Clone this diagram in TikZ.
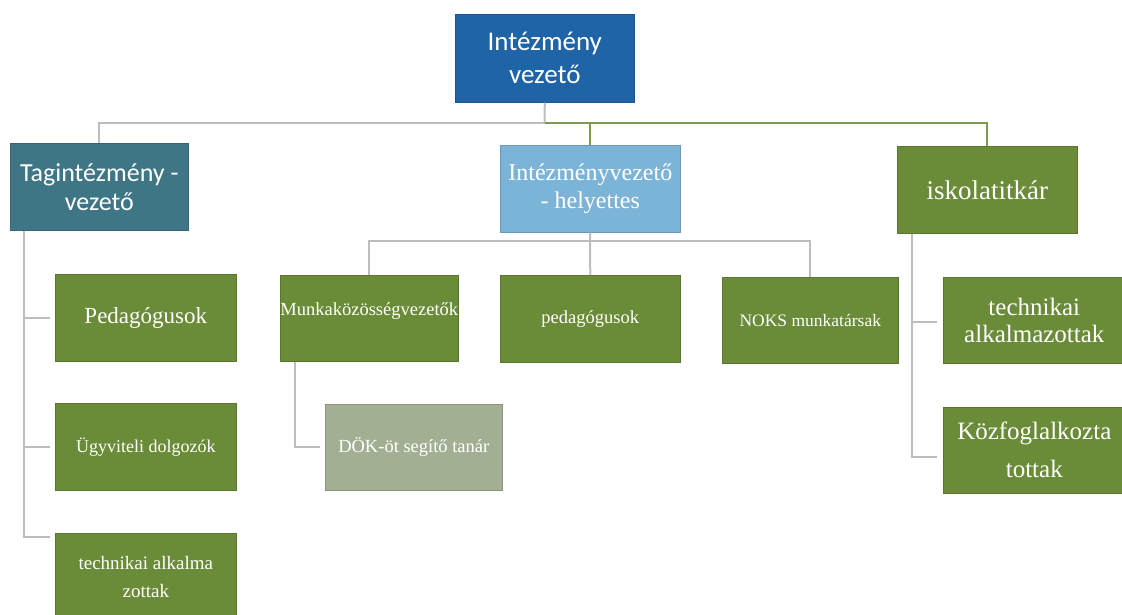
\documentclass[tikz,border=0pt]{standalone}
\usepackage{fontspec}
\setmainfont{Liberation Serif}
\newfontfamily\calfont{Carlito}
\definecolor{cblue}{HTML}{1F64A6}
\definecolor{cteal}{HTML}{3E7686}
\definecolor{clight}{HTML}{7CB4D8}
\definecolor{cgreen}{HTML}{6A8B37}
\definecolor{cdok}{HTML}{A3AF93}
\definecolor{cgray}{HTML}{BDBDBD}
\definecolor{cgline}{HTML}{7E9A4E}
\begin{document}
\begin{tikzpicture}[x=1pt,y=-1pt,
  box/.style={anchor=north west,inner sep=0pt,text=white,align=center,
    draw=#1!85!black,line width=0.6pt,fill=#1},
  conn/.style={draw=cgray,line width=2pt},
  conng/.style={draw=cgline,line width=2pt}]
\useasboundingbox (0,0) rectangle (1122,614);
% level 0
\node[box=cblue,minimum width=179pt,minimum height=88pt,font=\calfont\fontsize{27}{33}\selectfont] (top) at (455,14) {Intézmény\\vezető};
% level 1
\node[box=cteal,minimum width=178pt,minimum height=87pt,font=\calfont\fontsize{26}{29}\selectfont] (tag) at (10,143) {Tagintézmény -\\vezető};
\node[box=clight,minimum width=180pt,minimum height=87pt,font=\fontsize{24}{28}\selectfont] (hely) at (500,145) {Intézményvezető\\- helyettes};
\node[box=cgreen,minimum width=180pt,minimum height=87pt,font=\fontsize{27}{30}\selectfont] (isk) at (897,146) {iskolatitkár};
% left column
\node[box=cgreen,minimum width=181pt,minimum height=87pt,font=\fontsize{23}{27}\selectfont] (ped) at (55,274) {Pedagógusok};
\node[box=cgreen,minimum width=181pt,minimum height=87pt,font=\fontsize{18}{22}\selectfont] (ugy) at (55,403) {Ügyviteli dolgozók};
\node[box=cgreen,minimum width=181pt,minimum height=87pt,font=\fontsize{19}{28}\selectfont] (tech1) at (55,533) {technikai alkalma\\zottak};
% middle row
\node[box=cgreen,minimum width=178pt,minimum height=86pt,text height=14pt,text depth=20pt,font=\fontsize{18.5}{22}\selectfont] (munka) at (280,275) {Munkaközösségvezetők};
\node[box=cgreen,minimum width=180pt,minimum height=87pt,font=\fontsize{18.5}{22}\selectfont] (peda) at (500,275) {pedagógusok};
\node[box=cgreen,minimum width=176pt,minimum height=86pt,font=\fontsize{17.5}{22}\selectfont] (noks) at (722,277) {NOKS munkatársak};
\node[box=cdok,minimum width=177pt,minimum height=86pt,font=\fontsize{18.5}{22}\selectfont] (dok) at (325,404) {DÖK-öt segítő tanár};
% right column
\node[box=cgreen,minimum width=182pt,minimum height=86pt,font=\fontsize{25}{27}\selectfont] (tech2) at (943,277) {technikai\\alkalmazottak};
\node[box=cgreen,minimum width=182pt,minimum height=86pt,font=\fontsize{25}{38}\selectfont] (kozf) at (943,407) {Közfoglalkozta\\tottak};
% connectors
\coordinate (j0) at (544.5,123);
\coordinate (j1) at (590,241);
\draw[conn] (top.south) -- (j0);
\draw[conn] (j0) -| (tag.north);
\draw[conng] (j0) -| (isk.north);
\draw[conng] (j0) -| (hely.north);
\draw[conn] (hely.south) -- (j1);
\draw[conn] (j1) -| (munka.north);
\draw[conn] (j1) -| (noks.north);
\draw[conn] (j1) -- (peda.north);
\draw[conn,shorten >=5pt] ([xshift=14pt]tag.south west) |- (ped.west);
\draw[conn,shorten >=5pt] ([xshift=14pt]tag.south west) |- (ugy.west);
\draw[conn,shorten >=5pt] ([xshift=14pt]tag.south west) |- ([yshift=-3.5pt]tech1.north west);
\draw[conn,shorten >=5pt] ([xshift=15pt]munka.south west) |- (dok.west);
\draw[conn,shorten >=6pt] ([xshift=15pt]isk.south west) |- ([yshift=-2pt]tech2.west);
\draw[conn,shorten >=6pt] ([xshift=15pt]isk.south west) |- ([yshift=-7pt]kozf.west);
\end{tikzpicture}
\end{document}
